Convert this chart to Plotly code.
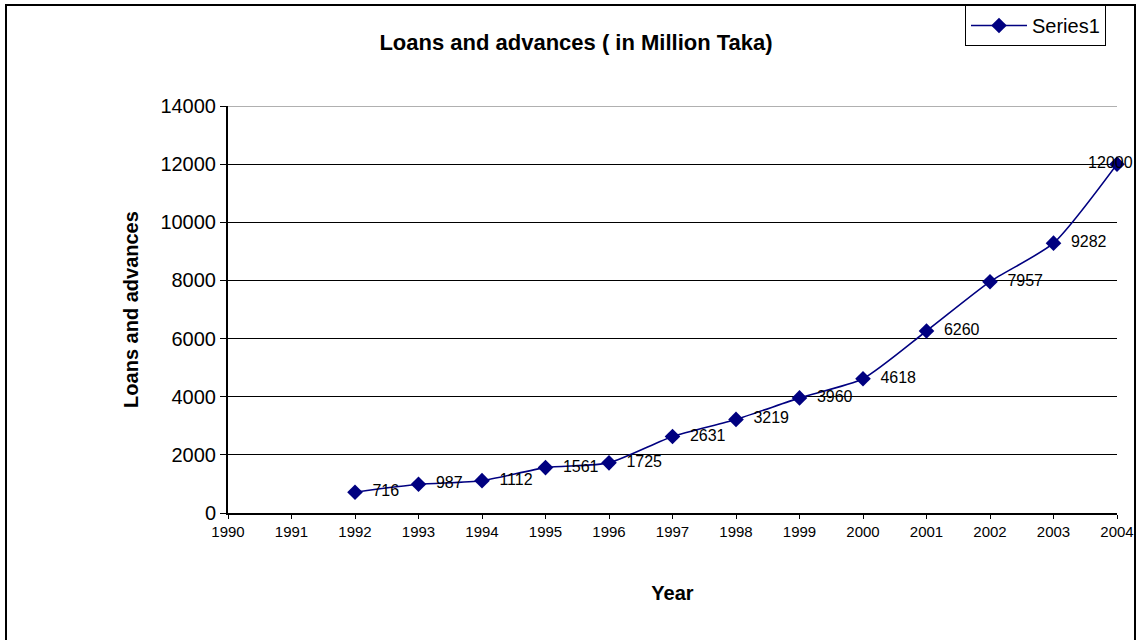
import plotly.graph_objects as go

years = [1992, 1993, 1994, 1995, 1996, 1997, 1998, 1999, 2000, 2001, 2002, 2003, 2004]
loans = [716, 987, 1112, 1561, 1725, 2631, 3219, 3960, 4618, 6260, 7957, 9282, 12000]
x_ticks = list(range(1990, 2005))
y_ticks = list(range(0, 14001, 2000))

FONT = "Liberation Sans, Arial, sans-serif"
NAVY = "#000080"

labels = ["  " + str(v) for v in loans]
labels[-1] = str(loans[-1]) + "   "
positions = ["middle right"] * len(loans)
positions[-1] = "middle center"

fig = go.Figure()
fig.add_trace(go.Scatter(
    x=years, y=loans, name="Series1",
    mode="lines+markers+text",
    line=dict(color=NAVY, width=1.6, shape="spline", smoothing=0.6),
    marker=dict(symbol="diamond", size=12, color=NAVY),
    text=labels, textposition=positions,
    textfont=dict(family=FONT, size=16, color="black"),
    cliponaxis=False,
))

fig.update_layout(
    width=1138, height=640,
    margin=dict(l=228, r=21, t=106, b=127, autoexpand=False),
    paper_bgcolor="white", plot_bgcolor="white",
    font=dict(family=FONT, color="black"),
    title=dict(text="<b>Loans and advances ( in Million Taka)</b>",
               font=dict(size=22, family=FONT), x=576/1138, xanchor="center",
               y=1 - 42/640, yanchor="middle"),
    showlegend=True,
    legend=dict(x=(1106 - 228) / 889, xanchor="right", y=1 + (106 - 5) / 407, yanchor="top",
                bordercolor="black", borderwidth=1, bgcolor="white",
                font=dict(size=20, family=FONT), itemwidth=56,
                xref="paper", yref="paper"),
    xaxis=dict(range=[1990, 2004], tickvals=x_ticks, ticktext=[str(t) for t in x_ticks],
               tickfont=dict(size=15), ticks="outside", ticklen=4, tickcolor="black",
               showline=True, linecolor="black", linewidth=2, showgrid=False, zeroline=False,
               title=dict(text="<b>Year</b>", font=dict(size=20), standoff=47)),
    yaxis=dict(range=[0, 14000], tickvals=y_ticks, ticktext=[str(t) for t in y_ticks],
               tickfont=dict(size=20), ticks="outside", ticklen=6, tickcolor="black",
               showline=True, linecolor="black", linewidth=2,
               showgrid=True, gridcolor="black", gridwidth=1.2, zeroline=False,
               title=dict(text="<b>Loans and advances</b>", font=dict(size=20), standoff=16)),
)

# outer chart border (pixel-based)
fig.add_shape(type="rect", xref="paper", yref="paper",
              xsizemode="pixel", ysizemode="pixel", xanchor=0, yanchor=1,
              x0=6 - 228, x1=1135 - 228, y0=106 - 5, y1=106 - 700,
              line=dict(color="black", width=2), fillcolor="rgba(0,0,0,0)", layer="below")
# top gridline at 14000 is lighter
fig.add_shape(type="line", xref="paper", yref="y", x0=0, x1=1, y0=14000, y1=14000,
              line=dict(color="#b0b0b0", width=2))

fig.write_html("out.html")
